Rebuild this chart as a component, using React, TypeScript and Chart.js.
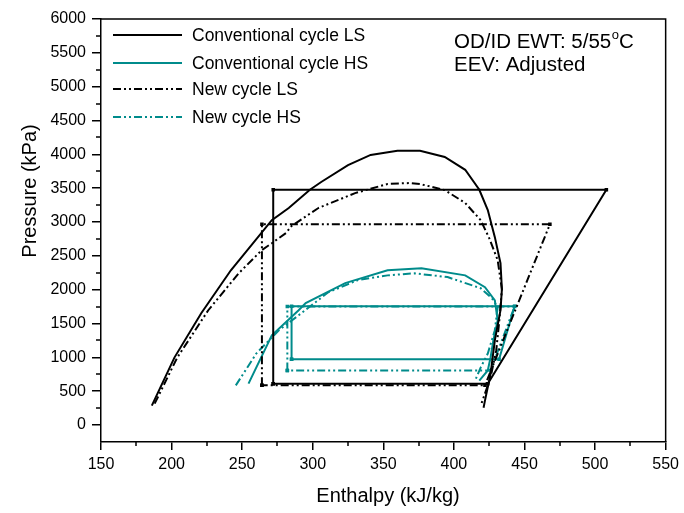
import React, { useEffect, useRef } from 'react';
import { Chart, registerables } from 'chart.js';

Chart.register(...registerables);

const FONT = "'Liberation Sans', Arial, Helvetica, sans-serif";
const BLACK = '#000000';
const TEAL = '#008B8B';
const DASH = [8, 3, 2, 3, 2, 3];

const xTickValues = [150, 200, 250, 300, 350, 400, 450, 500, 550];
const yTickValues = [0, 500, 1000, 1500, 2000, 2500, 3000, 3500, 4000, 4500, 5000, 5500, 6000];

const seriesNames = ['Conventional cycle LS', 'Conventional cycle HS', 'New cycle LS', 'New cycle HS'];
const noteLine1 = 'OD/ID EWT: 5/55';
const noteLine2 = 'EEV: Adjusted';
const xTitle = 'Enthalpy (kJ/kg)';
const yTitle = 'Pressure (kPa)';

// Conventional cycle LS (black solid)
const lsDomeH = [186, 202, 221, 242, 271, 283, 298, 306, 325, 341, 360, 376, 393.5, 408, 418, 424, 429, 433, 434, 433, 429, 426, 422, 421];
const lsDomeP = [287, 997, 1652, 2287, 3027, 3207, 3477, 3592, 3842, 3992, 4052, 4052, 3962, 3772, 3477, 3177, 2777, 2392, 2007, 1697, 1252, 762, 362, 257];
const lsCycleH = [272, 272, 508, 424, 272];
const lsCycleP = [612, 3477, 3477, 612, 612];

// Conventional cycle HS (teal solid)
const hsDomeH = [254.5, 271, 290, 295, 323, 353, 377, 408, 422, 429, 431, 428, 426, 424, 418];
const hsDomeP = [612, 1327, 1697, 1802, 2097, 2287, 2317, 2212, 2037, 1842, 1547, 1257, 1002, 807, 657];
const hsCycleH = [285, 285, 443, 432, 285];
const hsCycleP = [972, 1757, 1757, 972, 972];

// New cycle LS (black dash-dot-dot)
const nlsDomeH = [188, 204, 226, 247.5, 264, 271, 281, 285, 304, 330, 353, 369, 376, 393.5, 408, 419, 425, 431, 434, 432, 430, 426, 419];
const nlsDomeP = [317, 997, 1697, 2242, 2587, 2687, 2837, 2942, 3207, 3427, 3562, 3577, 3562, 3472, 3282, 3027, 2762, 2437, 2007, 1507, 1107, 707, 287];
const nlsCycleH = [264, 264, 468, 422, 264];
const nlsCycleP = [587, 2967, 2967, 587, 587];

// New cycle HS (teal dash-dot-dot)
const nhsDomeH = [245.5, 260, 276, 290, 311, 332, 353, 372, 395.5, 419, 427, 431, 429, 424, 419, 415];
const nhsDomeP = [587, 1057, 1402, 1622, 1962, 2142, 2212, 2242, 2187, 2022, 1872, 1742, 1402, 1057, 852, 657];
const nhsCycleH = [282, 282, 443, 426, 282];
const nhsCycleP = [807, 1752, 1752, 807, 807];

const toPts = (h: number[], p: number[]) => h.map((x, i) => ({ x, y: p[i] }));

function lineDs(label: string, h: number[], p: number[], color: string, dash: number[], markers: boolean) {
  return {
    label,
    data: toPts(h, p),
    showLine: true,
    borderColor: color,
    backgroundColor: color,
    borderWidth: 2,
    borderDash: dash,
    pointRadius: markers ? 2.5 : 0,
    pointHoverRadius: 0,
    pointStyle: 'rect',
    pointBorderWidth: 0,
    pointBackgroundColor: color,
    fill: false,
    tension: 0,
  };
}

const decorPlugin = {
  id: 'decor',
  afterDraw(chart: any) {
    const { ctx, chartArea } = chart;
    const { left, right, top, bottom } = chartArea;
    const xs = chart.scales.x;
    const ys = chart.scales.y;
    ctx.save();
    ctx.strokeStyle = BLACK;
    ctx.lineWidth = 1.5;
    ctx.setLineDash([]);
    // frame top/right
    ctx.beginPath();
    ctx.moveTo(left, top);
    ctx.lineTo(right, top);
    ctx.lineTo(right, bottom);
    ctx.stroke();
    // minor ticks
    ctx.beginPath();
    for (let v = 250; v < 6000; v += 500) {
      const y = Math.round(ys.getPixelForValue(v));
      ctx.moveTo(left - 5, y);
      ctx.lineTo(left, y);
    }
    for (let v = 175; v < 550; v += 50) {
      const x = Math.round(xs.getPixelForValue(v));
      ctx.moveTo(x, bottom);
      ctx.lineTo(x, bottom + 4);
    }
    ctx.stroke();

    // legend
    const colors = [BLACK, TEAL, BLACK, TEAL];
    const dashes = [[], [], DASH, DASH];
    const rows = [35, 63, 89, 117];
    ctx.font = `17.5px ${FONT}`;
    ctx.textBaseline = 'middle';
    ctx.textAlign = 'left';
    seriesNames.forEach((name, i) => {
      ctx.strokeStyle = colors[i];
      ctx.lineWidth = 2;
      ctx.setLineDash(dashes[i]);
      ctx.beginPath();
      ctx.moveTo(113, rows[i]);
      ctx.lineTo(182, rows[i]);
      ctx.stroke();
      ctx.fillStyle = BLACK;
      ctx.fillText(name, 192, rows[i] + 1);
    });
    ctx.setLineDash([]);

    // annotation
    ctx.fillStyle = BLACK;
    ctx.font = `20.5px ${FONT}`;
    ctx.textBaseline = 'alphabetic';
    let x = 454;
    const b1 = 48;
    ctx.fillText(noteLine1, x, b1);
    x += ctx.measureText(noteLine1).width;
    ctx.font = `13px ${FONT}`;
    ctx.fillText('o', x + 0.5, b1 - 9);
    x += ctx.measureText('o').width + 0.5;
    ctx.font = `20.5px ${FONT}`;
    ctx.fillText('C', x, b1);
    ctx.fillText(noteLine2, 454, 71);

    // axis titles
    ctx.textAlign = 'center';
    ctx.textBaseline = 'middle';
    ctx.font = `20px ${FONT}`;
    ctx.fillText(xTitle, 388, 496);
    ctx.translate(30, 191);
    ctx.rotate(-Math.PI / 2);
    ctx.fillText(yTitle, 0, 0);
    ctx.restore();
  },
};

export default function App() {
  const ref = useRef<HTMLCanvasElement | null>(null);
  useEffect(() => {
    if (!ref.current) return;
    const chart = new Chart(ref.current, {
      type: 'scatter',
      data: {
        datasets: [
          lineDs('lsDome', lsDomeH, lsDomeP, BLACK, [], false),
          lineDs('lsCycle', lsCycleH, lsCycleP, BLACK, [], true),
          lineDs('nlsDome', nlsDomeH, nlsDomeP, BLACK, DASH, false),
          lineDs('nlsCycle', nlsCycleH, nlsCycleP, BLACK, DASH, true),
          lineDs('hsDome', hsDomeH, hsDomeP, TEAL, [], false),
          lineDs('hsCycle', hsCycleH, hsCycleP, TEAL, [], true),
          lineDs('nhsDome', nhsDomeH, nhsDomeP, TEAL, DASH, false),
          lineDs('nhsCycle', nhsCycleH, nhsCycleP, TEAL, DASH, true),
        ] as any,
      },
      options: {
        animation: false,
        responsive: false,
        devicePixelRatio: 1,
        layout: { padding: { left: 0, top: 19, right: 14, bottom: 0 } },
        plugins: { legend: { display: false }, tooltip: { enabled: false } },
        scales: {
          x: {
            type: 'linear',
            min: 150,
            max: 550,
            afterBuildTicks: (s: any) => { s.ticks = xTickValues.map((v) => ({ value: v })); },
            afterFit: (s: any) => { s.height = 71; },
            grid: { display: true, drawOnChartArea: false, drawTicks: true, tickLength: 8, color: BLACK, lineWidth: 1.5 },
            border: { display: true, color: BLACK, width: 1.5 },
            ticks: { color: BLACK, padding: 5, autoSkip: false, maxRotation: 0, font: { size: 16, family: FONT }, callback: (v: any) => String(v) },
          },
          y: {
            type: 'linear',
            min: -250,
            max: 6000,
            afterBuildTicks: (s: any) => { s.ticks = yTickValues.map((v) => ({ value: v })); },
            afterFit: (s: any) => { s.width = 101; },
            grid: { display: true, drawOnChartArea: false, drawTicks: true, tickLength: 9, color: BLACK, lineWidth: 1.5 },
            border: { display: true, color: BLACK, width: 1.5 },
            ticks: { color: BLACK, padding: 6, autoSkip: false, font: { size: 16, family: FONT }, callback: (v: any) => String(v) },
          },
        },
      } as any,
      plugins: [decorPlugin],
    });
    return () => chart.destroy();
  }, []);
  return (
    <div style={{ position: 'absolute', left: 0, top: 0, width: 684, height: 513, background: '#fff' }}>
      <canvas ref={ref} width={684} height={513} style={{ display: 'block' }} />
    </div>
  );
}
